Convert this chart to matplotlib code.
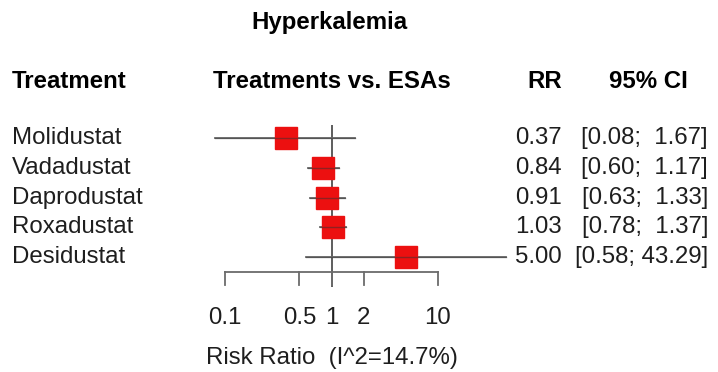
import matplotlib
matplotlib.use("Agg")
import matplotlib.pyplot as plt
import matplotlib.transforms as mtransforms
import numpy as np

treatments = ["Molidustat", "Vadadustat", "Daprodustat", "Roxadustat", "Desidustat"]
rr = [0.37, 0.84, 0.91, 1.03, 5.00]
lower = [0.08, 0.60, 0.63, 0.78, 0.58]
upper = [1.67, 1.17, 1.33, 1.37, 43.29]
ticks = [0.1, 0.5, 1, 2, 10]
tick_labels = ["0.1", "0.5", "1", "2", "10"]
title = "Hyperkalemia"
xlabel = "Risk Ratio  (I^2=14.7%)"

plt.rcParams['font.family'] = ['Liberation Sans', 'DejaVu Sans']
FS = 17.3

W, H = 718, 372
fig = plt.figure(figsize=(W / 100, H / 100), dpi=100)

# axes placement in pixels: x maps log10(v) -> 331.5 + 106.5*log10(v)
x0 = 331.5 - 106.5 * np.log10(20)
x1 = 331.5 + 106.5 * np.log10(50)
ax = fig.add_axes([x0 / W, 0, (x1 - x0) / W, 1])
ax.set_xscale('log')
ax.set_xlim(0.05, 50)
ax.set_ylim((H - 138) / 29.8, (0 - 138) / 29.8)
ax.axis('off')

def row(pix):
    return (pix - 138) / 29.8

ypos = np.arange(len(treatments))
line_col = '#6b6b6b'
txt_col = '#1e1e1e'

# reference line at 1
ax.plot([1, 1], [row(125), row(287)], color='#505050', lw=1.3, solid_capstyle='butt', zorder=1)

for i in range(len(treatments)):
    ax.plot([lower[i], upper[i]], [ypos[i], ypos[i]], color=line_col, lw=1.3, zorder=2)
    ax.plot([rr[i]], [ypos[i]], marker='s', ms=16, color='#ec1010', mec='#ec1010', zorder=3)
    ax.plot([lower[i], upper[i]], [ypos[i], ypos[i]], color='#333333', lw=1.0, alpha=0.5, zorder=4)

# x-axis
axis_y = row(272)
tick_end = row(285)
ax.plot([ticks[0], ticks[-1]], [axis_y, axis_y], color=line_col, lw=1.3, zorder=1)
for t, lab in zip(ticks, tick_labels):
    ax.plot([t, t], [axis_y, tick_end], color=line_col, lw=1.3, zorder=1)
    ax.text(t, row(318), lab, ha='center', va='center', fontsize=FS, color=txt_col)

tr = mtransforms.blended_transform_factory(fig.transFigure, ax.transData)
def px(x):
    return x / W

ax.text(px(206), row(358), xlabel, transform=tr, ha='left', va='center', fontsize=FS, color=txt_col)

ax.text(px(329), row(23), title, transform=tr, ha='center', va='center', fontsize=FS, fontweight='bold')
hy = row(81)
ax.text(px(12), hy, "Treatment", transform=tr, ha='left', va='center', fontsize=FS, fontweight='bold')
ax.text(px(332), hy, "Treatments vs. ESAs", transform=tr, ha='center', va='center', fontsize=FS, fontweight='bold')
ax.text(px(562), hy, "RR", transform=tr, ha='right', va='center', fontsize=FS, fontweight='bold')
ax.text(px(648), hy, "95% CI", transform=tr, ha='center', va='center', fontsize=FS, fontweight='bold')

up_strs = [f"{u:.2f}" for u in upper]
up_w = max(len(s) for s in up_strs)
for i, name in enumerate(treatments):
    ax.text(px(12), ypos[i], name, transform=tr, ha='left', va='center', fontsize=FS, color=txt_col)
    ax.text(px(562), ypos[i], f"{rr[i]:.2f}", transform=tr, ha='right', va='center', fontsize=FS, color=txt_col)
    ax.text(px(708), ypos[i], f"[{lower[i]:.2f}; {up_strs[i]:>{up_w}}]", transform=tr, ha='right', va='center',
            fontsize=FS, color=txt_col)

fig.savefig("out.png", dpi=100, facecolor='white')
